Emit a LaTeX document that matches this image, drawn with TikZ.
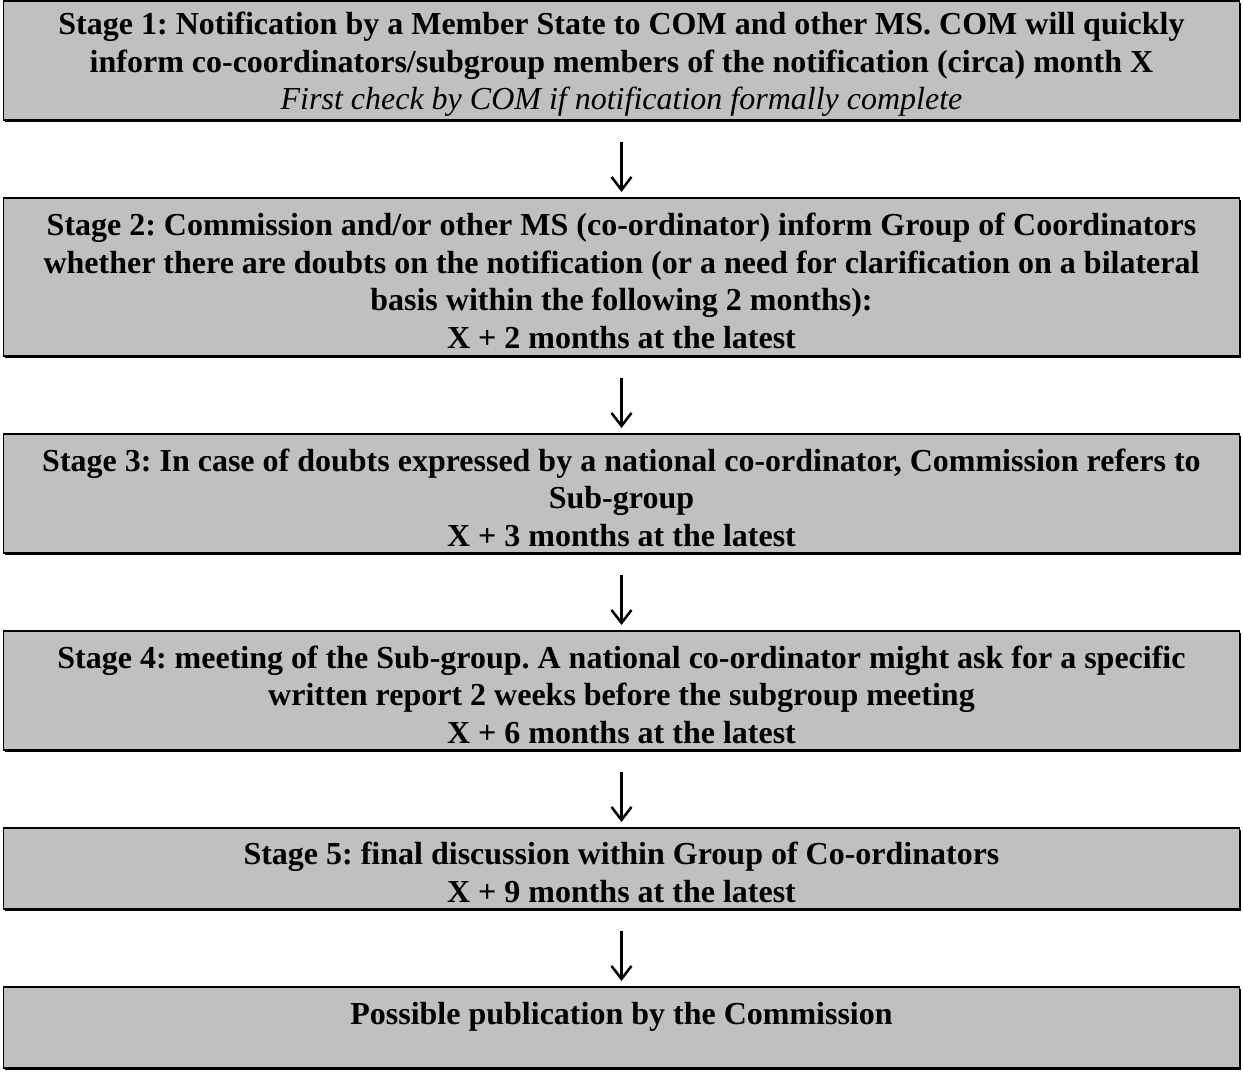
\documentclass[tikz,border=0pt]{standalone}
\usepackage{fontspec}
\setmainfont{Liberation Serif}
\usetikzlibrary{arrows.meta,positioning,shadows}
\definecolor{stagegray}{RGB}{192,192,192}
\newcommand{\stagestrut}{\rule{0pt}{30.5pt}}
\frenchspacing

\begin{document}
\begin{tikzpicture}[node distance=78pt, >={Straight Barb[length=13pt,width=20pt]},
  every node/.style={draw, line width=1.5pt, fill=stagegray, minimum width=1236pt, inner xsep=3pt, inner ysep=0pt,
    outer sep=0pt, align=center, font=\fontsize{32}{37.5}\selectfont\bfseries,
    drop shadow={shadow xshift=1.8pt, shadow yshift=-1.8pt, fill=black, opacity=1}}]
  \useasboundingbox (0,0) rectangle (1243pt,-1073pt);

  \node[anchor=north, minimum height=119pt] (s1) at (621.5pt,-1pt)
    {\stagestrut Stage 1: Notification by a Member State to COM and other MS. COM will quickly\\
     inform co-coordinators/subgroup members of the notification (circa) month X\\
     {\mdseries\itshape First check by COM if notification formally complete}};
  \node[below=of s1, minimum height=158pt] (s2)
    {\stagestrut Stage 2: Commission and/or other MS (co-ordinator) inform Group of Coordinators\\
     whether there are doubts on the notification (or a need for clarification on a bilateral\\
     basis within the following 2 months):\\
     X + 2 months at the latest};
  \node[below=of s2, minimum height=119pt] (s3)
    {\stagestrut Stage 3: In case of doubts expressed by a national co-ordinator, Commission refers to\\
     Sub-group\\
     X + 3 months at the latest};
  \node[below=of s3, minimum height=119pt] (s4)
    {\stagestrut Stage 4: meeting of the Sub-group. A national co-ordinator might ask for a specific\\
     written report 2 weeks before the subgroup meeting\\
     X + 6 months at the latest};
  \node[below=of s4, minimum height=81pt] (s5)
    {\stagestrut Stage 5: final discussion within Group of Co-ordinators\\
     X + 9 months at the latest};
  \node[below=of s5, minimum height=81pt] (pub)
    {\stagestrut Possible publication by the Commission\\ \mbox{}};

  \foreach \a/\b in {s1/s2, s2/s3, s3/s4, s4/s5, s5/pub}
    \draw[->, line width=2.5pt, shorten <=22pt, shorten >=6pt] (\a) -- (\b);
\end{tikzpicture}
\end{document}
